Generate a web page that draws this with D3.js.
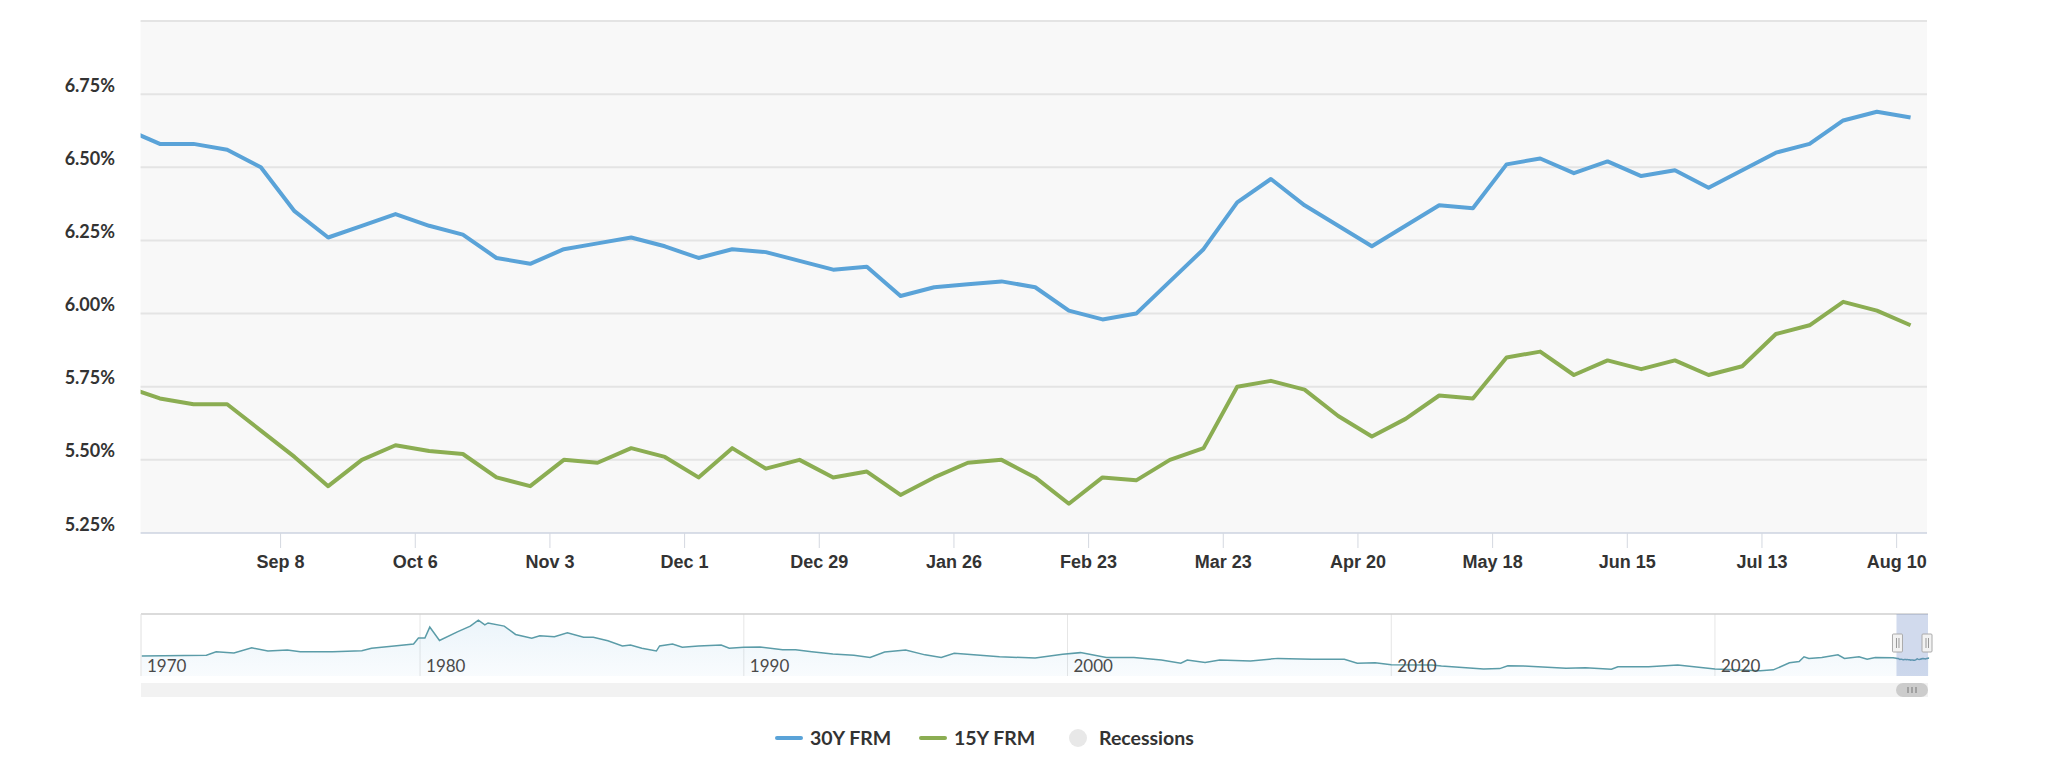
<!DOCTYPE html>
<html>
<head>
<meta charset="utf-8">
<title>30Y and 15Y FRM</title>
<script src="https://d3js.org/d3.v7.min.js"></script>
<style>
  html, body { margin: 0; padding: 0; background: #fff; }
  svg { display: block; font-family: Lato, "Open Sans", sans-serif; }
  .ylab, .xlab { font-size: 18px; font-weight: 700; fill: #333; }
  .navlab { font-size: 17px; font-weight: 400; fill: #4a4a4a; }
  .leg { font-size: 19.5px; font-weight: 700; fill: #333; }
</style>
</head>
<body>
<svg id="chart" width="2048" height="762"></svg>
<script>
// weekly Thursdays, Aug 7 2025 .. Aug 13 2026
const firstWeek = "2025-08-07";
const lastWeek = "2026-08-13";

const frm30 = [6.63, 6.58, 6.58, 6.56, 6.50, 6.35, 6.26, 6.30, 6.34, 6.30,
  6.27, 6.19, 6.17, 6.22, 6.24, 6.26, 6.23, 6.19, 6.22, 6.21,
  6.18, 6.15, 6.16, 6.06, 6.09, 6.10, 6.11, 6.09, 6.01, 5.98,
  6.00, 6.11, 6.22, 6.38, 6.46, 6.37, 6.30, 6.23, 6.30, 6.37,
  6.36, 6.51, 6.53, 6.48, 6.52, 6.47, 6.49, 6.43, 6.49, 6.55,
  6.58, 6.66, 6.69, 6.67];

const frm15 = [5.75, 5.71, 5.69, 5.69, 5.60, 5.51, 5.41, 5.50, 5.55, 5.53,
  5.52, 5.44, 5.41, 5.50, 5.49, 5.54, 5.51, 5.44, 5.54, 5.47,
  5.50, 5.44, 5.46, 5.38, 5.44, 5.49, 5.50, 5.44, 5.35, 5.44,
  5.43, 5.50, 5.54, 5.75, 5.77, 5.74, 5.65, 5.58, 5.64, 5.72,
  5.71, 5.85, 5.87, 5.79, 5.84, 5.81, 5.84, 5.79, 5.82, 5.93,
  5.96, 6.04, 6.01, 5.96];

const yTicks = [5.25, 5.50, 5.75, 6.00, 6.25, 6.50, 6.75, 7.00];
const xTickDates = ["2025-09-08", "2025-10-06", "2025-11-03", "2025-12-01", "2025-12-29",
  "2026-01-26", "2026-02-23", "2026-03-23", "2026-04-20", "2026-05-18",
  "2026-06-15", "2026-07-13", "2026-08-10"];

// navigator history (year, 30Y rate)
const navYears = [1971.4, 1973.4, 1973.7, 1974.25, 1974.8, 1975.3, 1975.9, 1976.3, 1977.3, 1978.2,
  1978.5, 1979.2, 1979.8, 1979.95, 1980.15, 1980.3, 1980.6, 1981.15, 1981.55, 1981.8,
  1982.0, 1982.1, 1982.6, 1982.95, 1983.45, 1983.7, 1984.15, 1984.55, 1985.05, 1985.35,
  1985.8, 1986.25, 1986.5, 1986.85, 1987.3, 1987.4, 1987.8, 1988.1, 1988.6, 1989.3,
  1989.55, 1990.0, 1990.5, 1991.2, 1991.6, 1992.1, 1992.75, 1993.4, 1993.9, 1994.35,
  1995.0, 1995.6, 1996.1, 1996.5, 1997.1, 1997.9, 1999.0, 1999.85, 2000.4, 2001.2,
  2002.05, 2002.9, 2003.5, 2003.7, 2004.25, 2004.7, 2005.65, 2006.5, 2007.55, 2008.55,
  2008.95, 2009.5, 2010.0, 2011.25, 2011.55, 2012.85, 2013.35, 2013.6, 2014.1, 2015.4,
  2016.0, 2016.8, 2017.0, 2017.95, 2018.85, 2020.0, 2021.4, 2021.8, 2022.3, 2022.6,
  2022.75, 2022.9, 2023.3, 2023.8, 2024.0, 2024.45, 2024.7, 2024.95, 2025.5];
const navRates = [7.35, 7.6, 8.7, 8.3, 9.9, 8.9, 9.2, 8.7, 8.7, 9.0,
  9.8, 10.5, 11.1, 13.0, 13.0, 16.4, 12.2, 14.9, 16.7, 18.6,
  17.1, 17.7, 16.7, 14.1, 12.9, 13.7, 13.4, 14.6, 13.2, 13.2,
  12.1, 10.5, 10.8, 9.8, 8.9, 10.5, 11.1, 10.1, 10.5, 10.8,
  9.8, 10.1, 10.2, 9.3, 9.3, 8.7, 8.0, 7.6, 6.9, 8.6,
  9.2, 7.7, 6.9, 8.2, 7.7, 7.1, 6.7, 7.9, 8.4, 6.9,
  6.9, 6.1, 5.1, 6.1, 5.3, 6.1, 5.8, 6.6, 6.3, 6.3,
  5.1, 5.2, 4.6, 4.5, 4.2, 3.3, 3.4, 4.3, 4.2, 3.5,
  3.7, 3.2, 4.0, 4.0, 4.5, 3.3, 2.7, 3.0, 5.2, 5.6,
  7.1, 6.6, 6.9, 7.7, 6.6, 7.1, 6.3, 6.9, 6.8];

const series = [
  { name: "30Y FRM", color: "#5aa3d8", values: frm30 },
  { name: "15Y FRM", color: "#8bad52", values: frm15 }
];

const svg = d3.select("#chart");
const parse = d3.utcParse("%Y-%m-%d");
const weeks = d3.utcThursday.range(parse(firstWeek), d3.utcDay.offset(parse(lastWeek), 1));

const plot = { left: 140.6, right: 1927, top: 21, bottom: 533 };
const x = d3.scaleUtc()
  .domain([parse("2025-08-10"), new Date(Date.UTC(2026, 7, 16, 10))])
  .range([plot.left, plot.right]);
const y = d3.scaleLinear().domain([5.25, 7.0]).range([plot.bottom, plot.top]);

// plot background + grid
svg.append("rect")
  .attr("x", plot.left).attr("y", plot.top)
  .attr("width", plot.right - plot.left).attr("height", plot.bottom - plot.top)
  .attr("fill", "#f8f8f8");

svg.append("g").selectAll("line")
  .data(yTicks.slice(1))
  .enter().append("line")
  .attr("x1", plot.left).attr("x2", plot.right)
  .attr("y1", d => y(d)).attr("y2", d => y(d))
  .attr("stroke", "#e4e4e4").attr("stroke-width", 2);

svg.append("g").selectAll("text")
  .data(yTicks.filter(d => d < 7))
  .enter().append("text")
  .attr("class", "ylab")
  .attr("x", 115).attr("y", d => y(d) - 2.5)
  .attr("text-anchor", "end")
  .text(d => d.toFixed(2) + "%");

// x axis
const xAxis = d3.axisBottom(x)
  .tickValues(xTickDates.map(parse))
  .tickSize(15)
  .tickPadding(12)
  .tickFormat(d3.utcFormat("%b %-d"));
const gx = svg.append("g").attr("transform", `translate(0,${plot.bottom})`).call(xAxis);
gx.select(".domain").attr("stroke", "#ccd3e0").attr("stroke-width", 1.5)
  .attr("d", `M${plot.left},0H${plot.right}`);
gx.selectAll(".tick line").attr("stroke", "#d4d8e0");
gx.selectAll(".tick text").attr("class", "xlab").attr("font-family", null).attr("font-size", null).attr("fill", null)
  .attr("dy", "0.71em").attr("y", 22);

// lines
svg.append("clipPath").attr("id", "plotclip").append("rect")
  .attr("x", plot.left).attr("y", plot.top)
  .attr("width", plot.right - plot.left).attr("height", plot.bottom - plot.top);

const line = d3.line().x(d => x(d[0])).y(d => y(d[1]));
svg.append("g").attr("clip-path", "url(#plotclip)")
  .selectAll("path")
  .data(series)
  .enter().append("path")
  .attr("d", s => line(weeks.map((w, i) => [w, s.values[i]])))
  .attr("fill", "none")
  .attr("stroke", s => s.color)
  .attr("stroke-width", 4)
  .attr("stroke-linejoin", "round");

// navigator
const nav = { left: 141, right: 1928, top: 614, bottom: 676 };
const yearToDate = yr => {
  const y0 = Math.floor(yr);
  const a = Date.UTC(y0, 0, 1), b = Date.UTC(y0 + 1, 0, 1);
  return new Date(a + (yr - y0) * (b - a));
};
const nx = d3.scaleUtc()
  .domain([yearToDate(1971.38), yearToDate(2026.58)])
  .range([nav.left, nav.right]);
const ny = d3.scaleLinear().domain([1.08, 20.5]).range([nav.bottom, nav.top]);

const navData = navYears.map((yr, i) => [yearToDate(yr), navRates[i]])
  .concat(weeks.map((w, i) => [w, frm30[i]]).filter(d => d[0] > yearToDate(2025.5)));

const grad = svg.append("defs").append("linearGradient")
  .attr("id", "navfill").attr("x1", 0).attr("x2", 0).attr("y1", 0).attr("y2", 1);
grad.append("stop").attr("offset", "0%").attr("stop-color", "#5ea6d9").attr("stop-opacity", 0.12);
grad.append("stop").attr("offset", "100%").attr("stop-color", "#5ea6d9").attr("stop-opacity", 0.04);

const navYearTicks = d3.utcYear.every(10).range(yearToDate(1980), yearToDate(2026));
svg.append("g").selectAll("line")
  .data(navYearTicks)
  .enter().append("line")
  .attr("x1", d => nx(d)).attr("x2", d => nx(d))
  .attr("y1", nav.top).attr("y2", nav.bottom)
  .attr("stroke", "#e6e6e6").attr("stroke-width", 1);

svg.append("path")
  .datum(navData)
  .attr("d", d3.area().x(d => nx(d[0])).y0(nav.bottom).y1(d => ny(d[1])))
  .attr("fill", "url(#navfill)");
svg.append("path")
  .datum(navData)
  .attr("d", d3.line().x(d => nx(d[0])).y(d => ny(d[1])))
  .attr("fill", "none").attr("stroke", "#5b9ca8").attr("stroke-width", 1.5);

svg.append("g").selectAll("text")
  .data([yearToDate(1970)].concat(navYearTicks))
  .enter().append("text")
  .attr("class", "navlab")
  .attr("x", d => Math.max(nx(d), nav.left) + 6)
  .attr("y", 672)
  .text(d => d3.utcFormat("%Y")(d));

svg.append("line")
  .attr("x1", nav.left).attr("x2", nav.right)
  .attr("y1", nav.top).attr("y2", nav.top)
  .attr("stroke", "#cfcfcf").attr("stroke-width", 1.5);
svg.append("line")
  .attr("x1", nav.left).attr("x2", nav.left)
  .attr("y1", nav.top).attr("y2", nav.bottom)
  .attr("stroke", "#e0e0e0");

// selected window on the navigator
const selX0 = nx(x.domain()[0]) < 1894 ? 1894 : nx(x.domain()[0]);
svg.append("rect")
  .attr("x", selX0).attr("y", nav.top)
  .attr("width", nav.right - selX0).attr("height", nav.bottom - nav.top)
  .attr("fill", "rgba(102,133,194,0.3)");
[selX0 - 4, nav.right - 6].forEach(hx => {
  const h = svg.append("g").attr("transform", `translate(${hx},634)`);
  h.append("rect").attr("width", 10).attr("height", 18).attr("rx", 1)
    .attr("fill", "#f2f2f2").attr("stroke", "#aaa");
  h.append("line").attr("x1", 4).attr("x2", 4).attr("y1", 4).attr("y2", 14).attr("stroke", "#999");
  h.append("line").attr("x1", 6.5).attr("x2", 6.5).attr("y1", 4).attr("y2", 14).attr("stroke", "#999");
});

// scrollbar
svg.append("rect")
  .attr("x", nav.left).attr("y", 683)
  .attr("width", nav.right - nav.left).attr("height", 14)
  .attr("fill", "#f2f2f2");
svg.append("rect")
  .attr("x", 1896).attr("y", 683)
  .attr("width", nav.right - 1896).attr("height", 14).attr("rx", 7)
  .attr("fill", "#cccccc");
[1908, 1912, 1916].forEach(gxp => {
  svg.append("line").attr("x1", gxp).attr("x2", gxp).attr("y1", 687).attr("y2", 693)
    .attr("stroke", "#777").attr("stroke-width", 1);
});

// legend
const legend = svg.append("g").attr("transform", "translate(0,738)");
const legItems = [
  { name: "30Y FRM", color: series[0].color, x: 775, type: "line" },
  { name: "15Y FRM", color: series[1].color, x: 919, type: "line" },
  { name: "Recessions", color: "#e8e8e8", x: 1069, type: "dot" }
];
legItems.forEach(it => {
  if (it.type === "line") {
    legend.append("line").attr("x1", it.x + 2).attr("x2", it.x + 26)
      .attr("stroke", it.color).attr("stroke-width", 4).attr("stroke-linecap", "round");
    legend.append("text").attr("class", "leg").attr("x", it.x + 35).attr("y", 7).text(it.name);
  } else {
    legend.append("circle").attr("cx", it.x + 9).attr("cy", 0).attr("r", 9).attr("fill", it.color);
    legend.append("text").attr("class", "leg").attr("x", it.x + 30).attr("y", 7).text(it.name);
  }
});
</script>
</body>
</html>
